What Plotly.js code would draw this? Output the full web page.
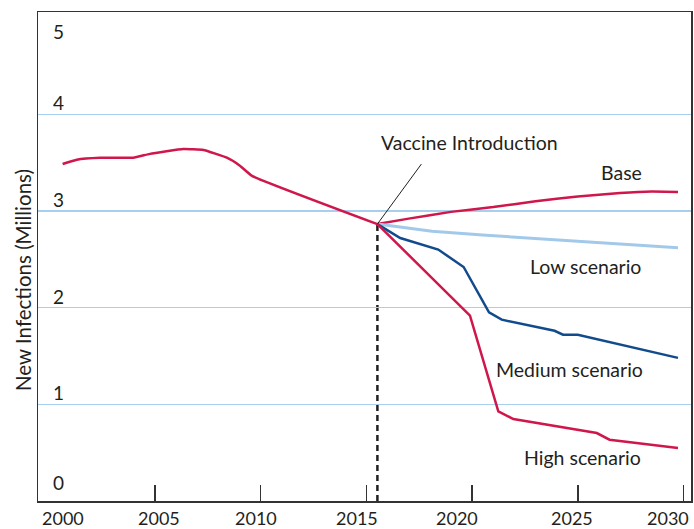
<!DOCTYPE html>
<html>
<head>
<meta charset="utf-8">
<script src="https://cdn.plot.ly/plotly-3.0.1.min.js"></script>
<style>html,body{margin:0;padding:0;background:#fff;}#chart{width:694px;height:529px;}</style>
</head>
<body>
<div id="chart"></div>
<script>
// ---- data ----
const histYears = [2000.63, 2001.3, 2002.4, 2003.97, 2004.76, 2006.34, 2007.29, 2008.4, 2009.0, 2009.57, 2015.52];
const histValues = [3.485, 3.53, 3.55, 3.55, 3.59, 3.64, 3.63, 3.55, 3.47, 3.365, 2.864];

const baseYears = [2015.52, 2017, 2019, 2021, 2023, 2025, 2027, 2028.5, 2029.74];
const baseValues = [2.864, 2.92, 2.99, 3.04, 3.10, 3.15, 3.185, 3.20, 3.195];

const lowYears = [2015.52, 2018.1, 2020.5, 2029.74];
const lowValues = [2.864, 2.79, 2.75, 2.62];

const medYears = [2015.52, 2016.6, 2018.4, 2019.6, 2020.8, 2021.4, 2023.9, 2024.3, 2025.0, 2029.74];
const medValues = [2.864, 2.72, 2.60, 2.42, 1.95, 1.875, 1.76, 1.72, 1.72, 1.48];

const highYears = [2015.52, 2019.9, 2021.24, 2021.95, 2025.9, 2026.5, 2029.74];
const highValues = [2.864, 1.916, 0.928, 0.848, 0.703, 0.634, 0.548];

const introYear = 2015.52;
const introValue = 2.864;

const xTickYears = [2000, 2005, 2010, 2015, 2020, 2025, 2030];
const xTickMarks = [2005, 2010, 2015, 2020, 2025, 2030];
const yTickVals = [0, 1, 2, 3, 4, 5];
const yGridVals = [1, 2, 3, 4];

const seriesLabels = ["Base", "Low scenario", "Medium scenario", "High scenario"];
const labelYears = [2028.13, 2028.1, 2028.17, 2028.1];
const labelValues = [3.40, 2.42, 1.365, 0.455];

// ---- styles ----
const RED = "#d0174b", DBLUE = "#124b8b", LBLUE = "#a3c9ea", GRID = "#a9cfee", INK = "#231f20";
const FONT = "Lato, 'Open Sans', sans-serif";
const xLabelShift = [14, 4, -5, -9, -15, -6, -16];
const yLabelShift = [5, -2, -2, -2, -2, -27];

function line(x, y, color, width, smooth) {
  const ln = {color: color, width: width};
  if (smooth) { ln.shape = "spline"; ln.smoothing = 0.35; }
  return {x: x, y: y, type: "scatter", mode: "lines", hoverinfo: "skip", line: ln};
}
const traces = [
  line(histYears, histValues, RED, 2.5, true),
  line(baseYears, baseValues, RED, 2.5, true),
  line(lowYears, lowValues, LBLUE, 3, false),
  line(medYears, medValues, DBLUE, 2.5, false),
  line(highYears, highValues, RED, 2.5, false)
];

const annotations = [];
xTickYears.forEach((yr, i) => annotations.push({
  x: yr, y: 0, xref: "x", yref: "paper", yanchor: "middle", yshift: -17, xshift: xLabelShift[i],
  text: String(yr), showarrow: false, font: {family: FONT, size: 18, color: INK}
}));
yTickVals.forEach((v, i) => annotations.push({
  x: 0, xref: "paper", xanchor: "center", xshift: 20, y: v, yref: "y", yanchor: "bottom", yshift: yLabelShift[i],
  text: String(v), showarrow: false, font: {family: FONT, size: 19, color: INK}
}));
seriesLabels.forEach((t, i) => annotations.push({
  x: labelYears[i], y: labelValues[i], xanchor: "right", yanchor: "middle",
  text: t, showarrow: false, font: {family: FONT, size: 19.5, color: INK}
}));
annotations.push({
  x: 2019.86, y: 3.71, xanchor: "center", yanchor: "middle",
  text: "Vaccine Introduction", showarrow: false, font: {family: FONT, size: 19.5, color: INK}
});
annotations.push({
  x: 0, xref: "paper", xshift: -15, xanchor: "center", y: 0.452, yref: "paper", yanchor: "middle",
  text: "New Infections (Millions)", textangle: -90, showarrow: false,
  font: {family: FONT, size: 20.5, color: INK}
});

const shapes = [
  {type: "line", xref: "x", yref: "y", x0: introYear, x1: introYear, y0: 0, y1: introValue,
   line: {color: INK, width: 2.5, dash: "6px,4px"}, layer: "below"},
  {type: "line", xref: "x", yref: "y", xsizemode: "pixel", ysizemode: "pixel",
   xanchor: introYear, yanchor: introValue, x0: 0, x1: 44, y0: 0, y1: 60,
   line: {color: INK, width: 1}}
];

const layout = {
  width: 694, height: 529,
  margin: {l: 38, r: 3, t: 12, b: 28},
  paper_bgcolor: "#fff", plot_bgcolor: "#fff",
  showlegend: false,
  font: {family: FONT, size: 17, color: INK},
  xaxis: {range: [1999.465, 2030.355], tickvals: xTickMarks, showticklabels: false,
    ticks: "inside", ticklen: 16, tickwidth: 1.5, tickcolor: "#333",
    showgrid: false, zeroline: false, showline: true, linecolor: "#333", linewidth: 1.5, mirror: true, fixedrange: true},
  yaxis: {range: [0, 5.057], tickvals: yGridVals, showticklabels: false, ticks: "",
    showgrid: true, gridcolor: GRID, gridwidth: 1.2, zeroline: false,
    showline: true, linecolor: "#333", linewidth: 1.5, mirror: true, fixedrange: true},
  annotations: annotations,
  shapes: shapes
};

Plotly.newPlot("chart", traces, layout, {displayModeBar: false, staticPlot: true});
</script>
</body>
</html>
